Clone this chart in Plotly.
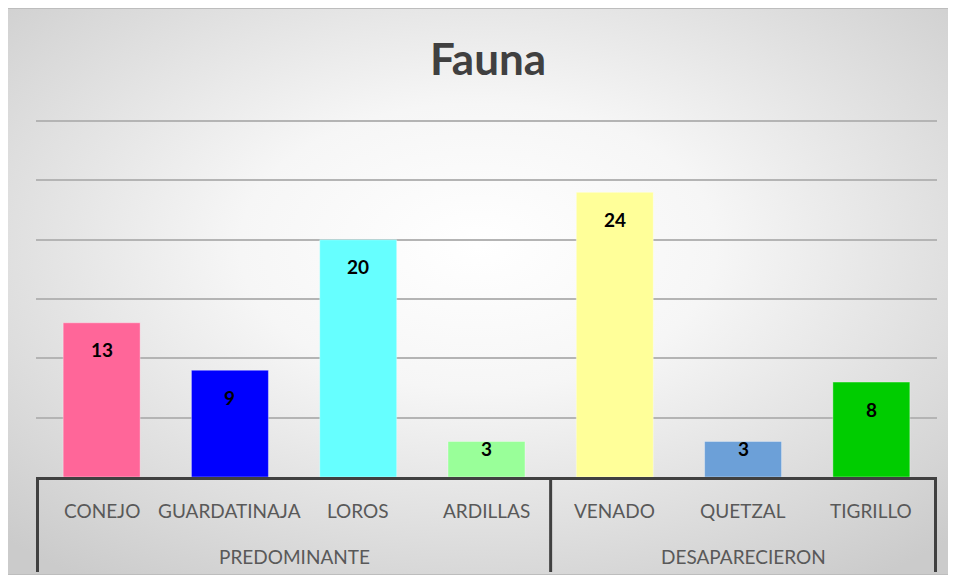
import base64
import plotly.graph_objects as go

groups = ["PREDOMINANTE"] * 4 + ["DESAPARECIERON"] * 3
animals = ["CONEJO", "GUARDATINAJA", "LOROS", "ARDILLAS", "VENADO", "QUETZAL", "TIGRILLO"]
values = [13, 9, 20, 3, 24, 3, 8]
colors = ["#FF6699", "#0000FF", "#66FFFF", "#99FF99", "#FFFF99", "#6CA0D8", "#00CC00"]
title_text = "Fauna"

FONT = "Lato"

# page body has an 8px margin: figure is sized to fit the window
W, H = 948, 573
L, R, T, B = 28, 19, 112, 104
pw, ph = W - L - R, H - T - B
YMAX = 30.1

svg = (
    "<svg xmlns='http://www.w3.org/2000/svg' width='946' height='567' preserveAspectRatio='none'>"
    "<defs><radialGradient id='g' cx='50%' cy='42%' r='72%'>"
    "<stop offset='0' stop-color='#ffffff'/>"
    "<stop offset='0.35' stop-color='#f6f6f6'/>"
    "<stop offset='1' stop-color='#cbcbcb'/>"
    "</radialGradient></defs>"
    "<rect x='0' y='0' width='946' height='567' fill='url(#g)' stroke='#bdbdbd' stroke-width='2'/>"
    "</svg>"
)
svg_uri = "data:image/svg+xml;base64," + base64.b64encode(svg.encode()).decode()

fig = go.Figure()
fig.add_trace(go.Bar(
    x=[groups, animals],
    y=values,
    marker=dict(color=colors, line=dict(color="rgba(255,255,255,0.35)", width=1)),
    hoverinfo="x+y",
))

# data labels near the top inside each bar
px_per_unit = ph / YMAX
for i, v in enumerate(values):
    shift = -27 if v * px_per_unit > 60 else -7
    fig.add_annotation(
        x=i, y=v, text=f"<b>{v}</b>", showarrow=False,
        yanchor="middle", yshift=shift,
        font=dict(family=FONT, size=19, color="#000000"),
    )

# category labels
for i, name in enumerate(animals):
    fig.add_annotation(
        x=i, xref="x", y=0, yref="paper", yshift=-33, yanchor="middle",
        text=name, showarrow=False,
        font=dict(family=FONT, size=19, color="#595959"),
    )

# group labels and dividers
div_len = 95 / ph
bounds = [-0.5]
for i in range(1, len(groups)):
    if groups[i] != groups[i - 1]:
        bounds.append(i - 0.5)
bounds.append(len(groups) - 0.5)
for a, b in zip(bounds[:-1], bounds[1:]):
    fig.add_annotation(
        x=(a + b) / 2, xref="x", y=0, yref="paper", yshift=-79, yanchor="middle",
        text=groups[int(a + 0.5)], showarrow=False,
        font=dict(family=FONT, size=19, color="#595959"),
    )
for bx in bounds:
    fig.add_shape(
        type="line", xref="x", yref="paper", x0=bx, x1=bx, y0=0, y1=-div_len,
        line=dict(color="#404040", width=3),
    )

gx0, gy0, gw, gh = -3, 0, 946, 567  # gradient panel in figure pixels
fig.update_layout(
    width=W, height=H,
    margin=dict(l=L, r=R, t=T, b=B, autoexpand=False),
    paper_bgcolor="#ffffff",
    plot_bgcolor="rgba(0,0,0,0)",
    bargap=0.4,
    showlegend=False,
    title=dict(
        text=f"<b>{title_text}</b>", x=(488 - 8) / W, xanchor="center",
        y=1 - (60 - 8) / H, yanchor="middle", yref="container",
        font=dict(family=FONT, size=44, color="#404040"),
    ),
    images=[dict(
        source=svg_uri, xref="paper", yref="paper",
        x=(gx0 - L) / pw, y=(H - B - gy0) / ph, sizex=gw / pw, sizey=gh / ph,
        xanchor="left", yanchor="top", sizing="stretch", layer="below",
    )],
    xaxis=dict(
        type="multicategory", automargin=False,
        showline=True, linecolor="#404040", linewidth=3,
        showdividers=False, showticklabels=False, ticks="",
        showgrid=False,
    ),
    yaxis=dict(
        range=[0, YMAX], dtick=5, showticklabels=False, automargin=False,
        showgrid=True, gridcolor="#b4b4b4", gridwidth=2,
        zeroline=False, showline=False,
    ),
)

fig.write_html("out.html")
